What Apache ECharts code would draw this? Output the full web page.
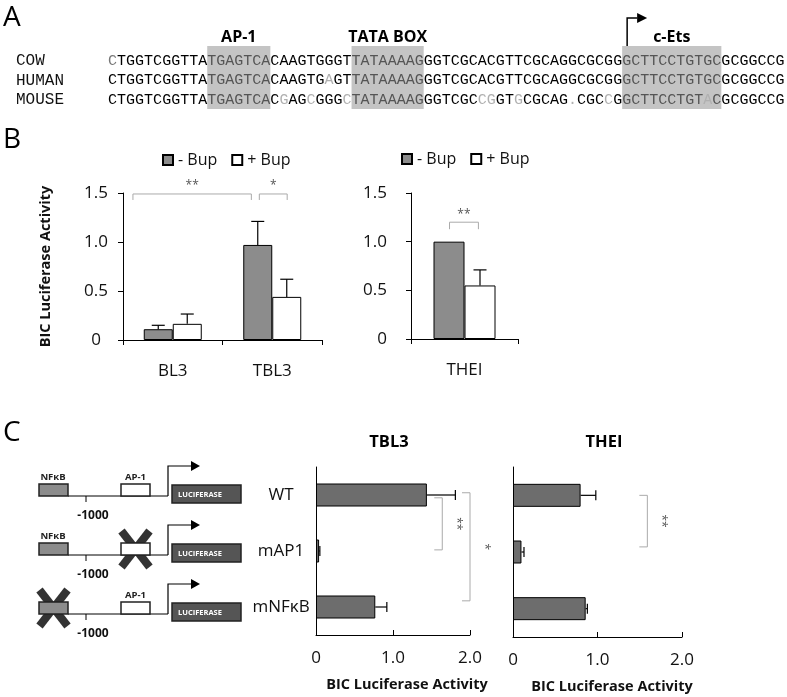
<!DOCTYPE html>
<html><head><meta charset="utf-8">
<script src="https://cdn.jsdelivr.net/npm/echarts@6/dist/echarts.min.js"></script>
<style>html,body{margin:0;padding:0;background:#fff}#c{width:787px;height:697px}</style>
</head><body><div id="c"></div>
<script>
// ---------- Panel A: promoter alignment ----------
const speciesLabels = ['COW', 'HUMAN', 'MOUSE'];
const cowSegments   = ['CTGGTCGGTTA', 'TGAGTCA', 'CAAGTGGGT', 'TATAAAAG', 'GGTCGCACGTTCGCAGGCGCGG', 'GCTTCCTGTGC', 'GCGGCCG'];
const humanSegments = ['CTGGTCGGTTA', 'TGAGTCA', 'CAAGTGAGT', 'TATAAAAG', 'GGTCGCACGTTCGCAGGCGCGG', 'GCTTCCTGTGC', 'GCGGCCG'];
const mouseSegments = ['CTGGTCGGTTA', 'TGAGTCA', 'CGAGCGGGC', 'TATAAAAG', 'GGTCGCCGGTGCGCAG.CGCCG', 'GCTTCCTGTAC', 'GCGGCCG'];
const boxSegmentIndex = [1, 3, 5];
const boxLabels = ['AP-1', 'TATA BOX', 'c-Ets'];

// ---------- Panel B ----------
const bCategories = ['BL3', 'TBL3'];
const bMinusBup = [0.11, 0.97];
const bMinusErr = [0.15, 1.21];
const bPlusBup = [0.165, 0.44];
const bPlusErr = [0.265, 0.62];
const theiCategory = ['THEI'];
const theiMinusBup = [1.0];
const theiPlusBup = [0.55];
const theiPlusErr = [0.71];
const bYMax = 1.5, bYInterval = 0.5;
const bBrackets = [[0.10, 1.29, 1.49], [1.37, 1.65, 1.49]];
const bBracketLabels = ['**', '*'];
const theiBrackets = [[0.36, 0.63, 1.20]];
const theiBracketLabels = ['**'];

// ---------- Panel C ----------
const cCategories = ['WT', 'mAP1', 'mNFκB'];
const cTBL3 = [1.44, 0.04, 0.77];
const cTBL3Err = [1.81, 0.05, 0.92];
const cTHEI = [0.80, 0.10, 0.86];
const cTHEIErr = [0.98, 0.13, 0.88];
const cXMax = 2, cXInterval = 1;
const cTBL3Brackets = [[1.64, 0.55, 1.48], [2.0, 0.46, 2.39]];
const cTBL3BracketLabels = ['**', '*'];
const cTHEIBrackets = [[1.59, 0.50, 1.41]];
const cTHEIBracketLabels = ['**'];
const constructs = [
  { nfkb: 'NFκB', ap1: 'AP-1', crossAP1: false, crossNF: false },
  { nfkb: 'NFκB', ap1: '', crossAP1: true, crossNF: false },
  { nfkb: '', ap1: 'AP-1', crossAP1: false, crossNF: true }
];

const FONT = '"Open Sans", "Noto Sans", sans-serif';
const MONO = '"Liberation Mono", "DejaVu Sans Mono", monospace';

// ---------- graphic helpers ----------
const G = [];
function T(x, y, text, font, fill, align, valign, extra) {
  const el = { type: 'text', x: x, y: y, silent: true,
    style: Object.assign({ text: text, font: font, fill: fill || '#000',
      align: align || 'left', textAlign: align || 'left',
      verticalAlign: valign || 'middle', textVerticalAlign: valign || 'middle' }, extra || {}) };
  G.push(el); return el;
}
function R(x, y, w, h, fill, stroke, lw) {
  G.push({ type: 'rect', silent: true, shape: { x: x, y: y, width: w, height: h },
    style: { fill: fill, stroke: stroke || null, lineWidth: lw || 0 } });
}
function L(points, stroke, lw) {
  G.push({ type: 'polyline', silent: true, shape: { points: points },
    style: { stroke: stroke || '#000', lineWidth: lw || 1, fill: null } });
}
function P(points, fill) {
  G.push({ type: 'polygon', silent: true, shape: { points: points }, style: { fill: fill } });
}

// panel letters
T(3, 18, 'A', '28px ' + FONT, '#000');
T(3, 140, 'B', '28px ' + FONT, '#000');
T(3, 433, 'C', '28px ' + FONT, '#000');

// Panel A
(function () {
  const x0 = 108, cw = 9.02, rowY = [61, 80.5, 100];
  const rows = [cowSegments, humanSegments, mouseSegments].map(s => s.join(''));
  const starts = []; let acc = 0;
  cowSegments.forEach(s => { starts.push(acc); acc += s.length; });
  const boxRanges = boxSegmentIndex.map(i => [starts[i], starts[i] + cowSegments[i].length]);
  boxRanges.forEach((r, k) => {
    R(x0 + r[0] * cw, 46, (r[1] - r[0]) * cw, 63, '#c4c4c4');
    T(x0 + (r[0] + r[1]) / 2 * cw, 37, boxLabels[k], 'bold 16px ' + FONT, '#000', 'center');
  });
  // transcription start arrow over c-Ets
  const ax = x0 + boxRanges[2][0] * cw + 5;
  L([[ax, 46], [ax, 18], [ax + 10, 18]], '#000', 1.5);
  P([[ax + 10, 13], [ax + 20, 18], [ax + 10, 23]], '#000');
  rows.forEach((seq, r) => {
    T(16, rowY[r], speciesLabels[r], '16px ' + MONO, '#111');
    for (let i = 0; i < seq.length; i++) {
      const inBox = boxRanges.some(b => i >= b[0] && i < b[1]);
      let col = inBox ? '#555' : '#000';
      if (r > 0 && seq[i] !== rows[0][i]) col = '#b0b0b0';
      if (r === 0 && i === 0) col = '#777';
      T(x0 + i * cw + cw / 2, rowY[r], seq[i], '15px ' + MONO, col, 'center');
    }
  });
})();

// Panel C constructs
(function () {
  const lineY = [496, 555, 614];
  constructs.forEach((c, r) => {
    const y = lineY[r];
    // backbone
    L([[68, y], [168, y]], '#000', 1);
    L([[86, y], [86, y + 6]], '#000', 1);
    T(93, y + 20, '-1000', 'bold 12px ' + FONT, '#111', 'center');
    // crosses (behind boxes)
    const cross = (cx, cy) => {
      L([[cx - 14, cy - 18], [cx + 14, cy + 18]], '#333', 8);
      L([[cx + 14, cy - 18], [cx - 14, cy + 18]], '#333', 8);
    };
    if (c.crossAP1) cross(135.5, y - 6);
    if (c.crossNF) cross(53.5, y - 6);
    R(39, y - 12, 29, 12, '#8c8c8c', '#222', 1.5);
    R(121, y - 12, 29, 12, '#fff', '#222', 1.5);
    if (c.nfkb) T(53, y - 19, c.nfkb, 'bold 9.5px ' + FONT, '#222', 'center');
    if (c.ap1) T(135.5, y - 19, c.ap1, 'bold 9.5px ' + FONT, '#222', 'center');
    // start arrow
    L([[168, y], [168, y - 30], [192, y - 30]], '#000', 1.2);
    P([[191, y - 35], [200, y - 30], [191, y - 25]], '#000');
    R(172, y - 11, 69, 18, '#555', '#222', 1.5);
    T(178, y - 1, 'LUCIFERASE', 'bold 7.5px ' + FONT, '#fff', 'left');
  });
})();

// panel C titles
T(389, 442, 'TBL3', 'bold 16.5px ' + FONT, '#000', 'center');
T(604, 442, 'THEI', 'bold 16.5px ' + FONT, '#000', 'center');

// ---------- custom renderers ----------
function vErr(offsetPx, capPx) {
  return function (params, api) {
    const a = api.coord([api.value(0), api.value(1)]);
    const b = api.coord([api.value(0), api.value(2)]);
    const x = a[0] + offsetPx;
    return { type: 'group', children: [
      { type: 'line', shape: { x1: x, y1: a[1], x2: x, y2: b[1] }, style: { stroke: '#000', lineWidth: 1.2 } },
      { type: 'line', shape: { x1: x - capPx / 2, y1: b[1], x2: x + capPx / 2, y2: b[1] }, style: { stroke: '#000', lineWidth: 1.2 } }
    ] };
  };
}
function hErr(capPx) {
  return function (params, api) {
    const a = api.coord([api.value(1), api.value(0)]);
    const b = api.coord([api.value(2), api.value(0)]);
    return { type: 'group', children: [
      { type: 'line', shape: { x1: a[0], y1: a[1], x2: b[0], y2: a[1] }, style: { stroke: '#000', lineWidth: 1.2 } },
      { type: 'line', shape: { x1: b[0], y1: a[1] - capPx / 2, x2: b[0], y2: a[1] + capPx / 2 }, style: { stroke: '#000', lineWidth: 1.2 } }
    ] };
  };
}
function hBracket(labels, dropPx) {
  return function (params, api) {
    const a = api.coord([api.value(0), api.value(2)]);
    const b = api.coord([api.value(1), api.value(2)]);
    const y = a[1];
    return { type: 'group', children: [
      { type: 'polyline', shape: { points: [[a[0], y + dropPx], [a[0], y], [b[0], y], [b[0], y + dropPx]] },
        style: { stroke: '#aaa', lineWidth: 1, fill: null } },
      { type: 'text', x: (a[0] + b[0]) / 2, y: y - 2,
        style: { text: labels[params.dataIndex], font: '12px ' + FONT, fill: '#555',
          align: 'center', verticalAlign: 'bottom', textAlign: 'center', textVerticalAlign: 'bottom' } }
    ] };
  };
}
function vBracket(labels, tickPx) {
  return function (params, api) {
    const a = api.coord([api.value(0), api.value(1)]);
    const b = api.coord([api.value(0), api.value(2)]);
    const x = a[0];
    return { type: 'group', children: [
      { type: 'polyline', shape: { points: [[x - tickPx, a[1]], [x, a[1]], [x, b[1]], [x - tickPx, b[1]]] },
        style: { stroke: '#aaa', lineWidth: 1, fill: null } },
      { type: 'text', x: x + 14, y: (a[1] + b[1]) / 2, rotation: -Math.PI / 2,
        style: { text: labels[params.dataIndex], font: '12px ' + FONT, fill: '#555',
          align: 'center', verticalAlign: 'middle', textAlign: 'center', textVerticalAlign: 'middle' } }
    ] };
  };
}

const axisLineBlack = { show: true, onZero: false, lineStyle: { color: '#000', width: 1 } };
const tickFmt = v => (v === 0 ? '0' : v.toFixed(1));
const BARW_B1 = 29, BARW_B2 = 31, BARW_C = 23;

const option = {
  animation: false,
  backgroundColor: '#fff',
  textStyle: { fontFamily: FONT },
  legend: [
    { left: 162, top: 152, padding: 0, itemWidth: 10, itemHeight: 10, itemGap: 14, icon: 'rect', selectedMode: false,
      textStyle: { fontSize: 16, color: '#111', fontFamily: FONT }, data: ['- Bup', '+ Bup'] },
    { left: 401, top: 151, padding: 0, itemWidth: 10, itemHeight: 10, itemGap: 14, icon: 'rect', selectedMode: false,
      textStyle: { fontSize: 16, color: '#111', fontFamily: FONT }, data: ['- Bup', '+ Bup'] }
  ],
  grid: [
    { left: 123, top: 193, width: 199, height: 147 },
    { left: 411, top: 193, width: 107, height: 146 },
    { left: 316, top: 467, width: 154, height: 168 },
    { left: 513, top: 467, width: 169, height: 170 }
  ],
  xAxis: [
    { gridIndex: 0, type: 'category', data: bCategories, axisLine: axisLineBlack,
      axisTick: { show: true, length: 5, lineStyle: { color: '#000' } },
      axisLabel: { fontSize: 17, margin: 23, color: '#111' } },
    { gridIndex: 0, type: 'value', min: 0, max: 2, show: false },
    { gridIndex: 1, type: 'category', data: theiCategory, axisLine: axisLineBlack,
      axisTick: { show: true, length: 5, lineStyle: { color: '#000' } },
      axisLabel: { fontSize: 17, margin: 23, color: '#111' } },
    { gridIndex: 1, type: 'value', min: 0, max: 1, show: false },
    { gridIndex: 2, type: 'value', min: 0, max: cXMax, interval: cXInterval, axisLine: axisLineBlack,
      axisTick: { show: true, inside: true, length: 5, lineStyle: { color: '#000' } }, splitLine: { show: false },
      axisLabel: { fontSize: 17, margin: 15, color: '#111', formatter: tickFmt },
      name: 'BIC Luciferase Activity', nameLocation: 'middle', nameGap: 42,
      nameTextStyle: { fontSize: 14.5, fontWeight: 'bold', color: '#111', padding: [0, 0, 0, 28] } },
    { gridIndex: 3, type: 'value', min: 0, max: cXMax, interval: cXInterval, axisLine: axisLineBlack,
      axisTick: { show: true, inside: true, length: 5, lineStyle: { color: '#000' } }, splitLine: { show: false },
      axisLabel: { fontSize: 17, margin: 15, color: '#111', formatter: tickFmt },
      name: 'BIC Luciferase Activity', nameLocation: 'middle', nameGap: 42,
      nameTextStyle: { fontSize: 14.5, fontWeight: 'bold', color: '#111', padding: [0, 0, 0, 29] } }
  ],
  yAxis: [
    { gridIndex: 0, type: 'value', min: 0, max: bYMax, interval: bYInterval, axisLine: axisLineBlack,
      axisTick: { show: true, length: 5, lineStyle: { color: '#000' } }, splitLine: { show: false },
      axisLabel: { fontSize: 17, align: 'center', margin: 27, color: '#111', formatter: tickFmt },
      name: 'BIC Luciferase Activity', nameLocation: 'middle', nameGap: 70, nameRotate: 90,
      nameTextStyle: { fontSize: 14.5, fontWeight: 'bold', color: '#111' } },
    { gridIndex: 1, type: 'value', min: 0, max: bYMax, interval: bYInterval, axisLine: axisLineBlack,
      axisTick: { show: true, length: 5, lineStyle: { color: '#000' } }, splitLine: { show: false },
      axisLabel: { fontSize: 17, margin: 24, color: '#111', formatter: tickFmt } },
    { gridIndex: 2, type: 'category', data: cCategories, inverse: true, axisLine: axisLineBlack,
      axisTick: { show: false }, axisLabel: { fontSize: 17, align: 'center', margin: 35, color: '#111' } },
    { gridIndex: 2, type: 'value', min: 0, max: 3, inverse: true, show: false },
    { gridIndex: 3, type: 'category', data: cCategories, inverse: true, axisLine: axisLineBlack,
      axisTick: { show: false }, axisLabel: { show: false } },
    { gridIndex: 3, type: 'value', min: 0, max: 3, inverse: true, show: false }
  ],
  series: [
    // Panel B left
    { type: 'bar', name: '- Bup', xAxisIndex: 0, yAxisIndex: 0, data: bMinusBup, barWidth: BARW_B1, barGap: '0%',
      itemStyle: { color: '#8c8c8c', borderColor: '#000', borderWidth: 1 } },
    { type: 'bar', name: '+ Bup', xAxisIndex: 0, yAxisIndex: 0, data: bPlusBup, barWidth: BARW_B1, barGap: '0%',
      itemStyle: { color: '#fff', borderColor: '#000', borderWidth: 1 } },
    { type: 'custom', xAxisIndex: 0, yAxisIndex: 0, encode: { x: 0, y: [1, 2] }, z: 5,
      data: bMinusBup.map((v, i) => [i, v, bMinusErr[i]]), renderItem: vErr(-BARW_B1 / 2, 13) },
    { type: 'custom', xAxisIndex: 0, yAxisIndex: 0, encode: { x: 0, y: [1, 2] }, z: 5,
      data: bPlusBup.map((v, i) => [i, v, bPlusErr[i]]), renderItem: vErr(BARW_B1 / 2, 13) },
    { type: 'custom', xAxisIndex: 1, yAxisIndex: 0, encode: { x: [0, 1], y: 2 }, z: 5,
      data: bBrackets, renderItem: hBracket(bBracketLabels, 6) },
    // Panel B right
    { type: 'bar', name: '- Bup', xAxisIndex: 2, yAxisIndex: 1, data: theiMinusBup, barWidth: BARW_B2, barGap: '0%',
      itemStyle: { color: '#8c8c8c', borderColor: '#000', borderWidth: 1 } },
    { type: 'bar', name: '+ Bup', xAxisIndex: 2, yAxisIndex: 1, data: theiPlusBup, barWidth: BARW_B2, barGap: '0%',
      itemStyle: { color: '#fff', borderColor: '#000', borderWidth: 1 } },
    { type: 'custom', xAxisIndex: 2, yAxisIndex: 1, encode: { x: 0, y: [1, 2] }, z: 5,
      data: theiPlusBup.map((v, i) => [i, v, theiPlusErr[i]]), renderItem: vErr(BARW_B2 / 2, 13) },
    { type: 'custom', xAxisIndex: 3, yAxisIndex: 1, encode: { x: [0, 1], y: 2 }, z: 5,
      data: theiBrackets, renderItem: hBracket(theiBracketLabels, 7) },
    // Panel C TBL3
    { type: 'bar', name: 'TBL3', xAxisIndex: 4, yAxisIndex: 2, data: cTBL3, barWidth: BARW_C,
      itemStyle: { color: '#6d6d6d', borderColor: '#000', borderWidth: 1 } },
    { type: 'custom', xAxisIndex: 4, yAxisIndex: 2, encode: { x: [1, 2], y: 0 }, z: 5,
      data: cTBL3.map((v, i) => [i, v, cTBL3Err[i]]), renderItem: hErr(10) },
    { type: 'custom', xAxisIndex: 4, yAxisIndex: 3, encode: { x: 0, y: [1, 2] }, z: 5,
      data: cTBL3Brackets, renderItem: vBracket(cTBL3BracketLabels, 8) },
    // Panel C THEI
    { type: 'bar', name: 'THEI', xAxisIndex: 5, yAxisIndex: 4, data: cTHEI, barWidth: BARW_C,
      itemStyle: { color: '#6d6d6d', borderColor: '#000', borderWidth: 1 } },
    { type: 'custom', xAxisIndex: 5, yAxisIndex: 4, encode: { x: [1, 2], y: 0 }, z: 5,
      data: cTHEI.map((v, i) => [i, v, cTHEIErr[i]]), renderItem: hErr(10) },
    { type: 'custom', xAxisIndex: 5, yAxisIndex: 5, encode: { x: 0, y: [1, 2] }, z: 5,
      data: cTHEIBrackets, renderItem: vBracket(cTHEIBracketLabels, 8) }
  ],
  graphic: { elements: G }
};

const chart = echarts.init(document.getElementById('c'), null, { renderer: 'canvas' });
chart.setOption(option);
</script>
</body></html>
